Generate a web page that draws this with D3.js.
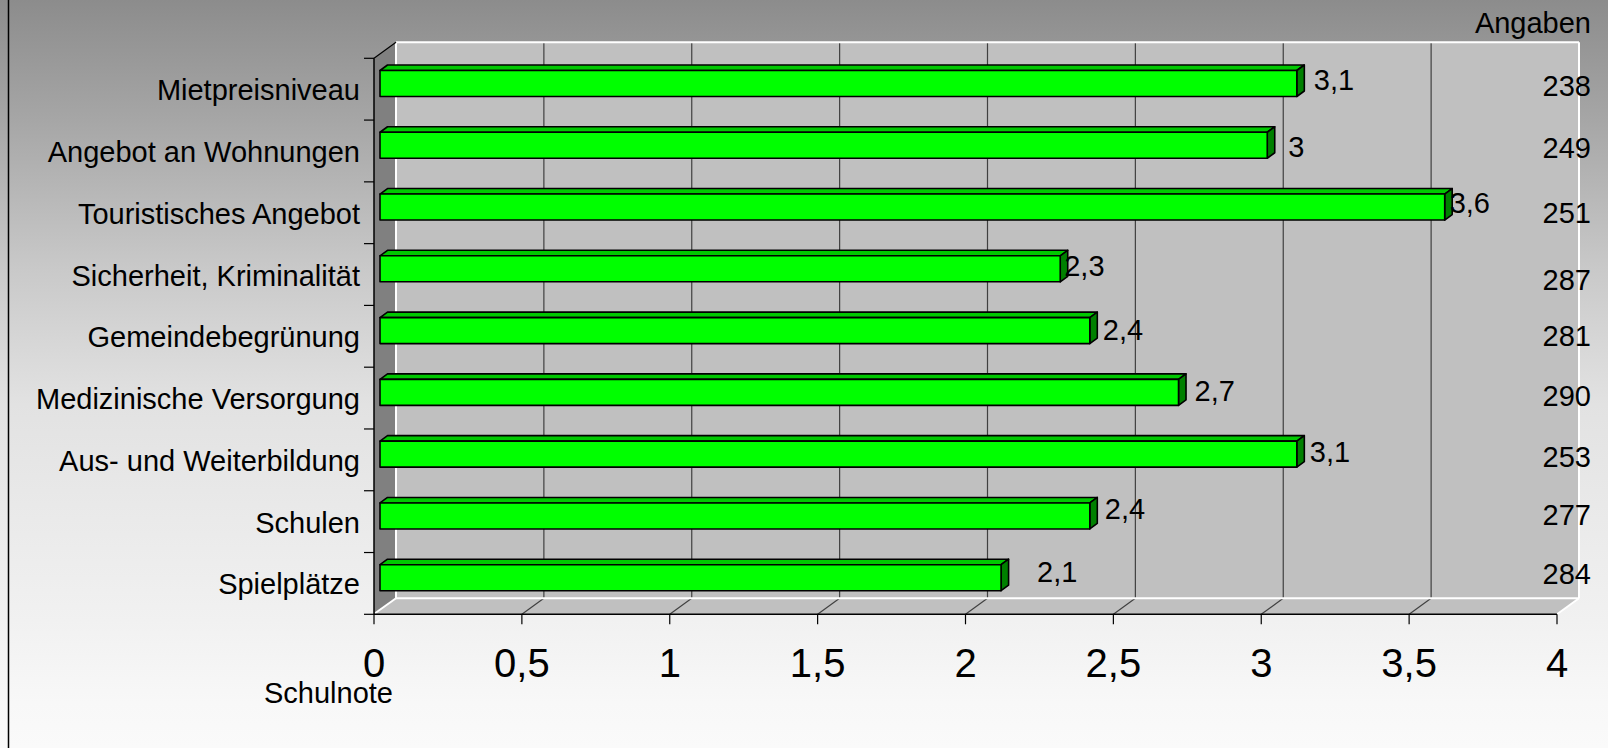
<!DOCTYPE html>
<html>
<head>
<meta charset="utf-8">
<script src="https://cdn.jsdelivr.net/npm/d3@7"></script>
<style>
  html, body { margin: 0; padding: 0; background: #fafafa; }
  svg { display: block; font-family: "Liberation Sans", Arial, sans-serif; }
</style>
</head>
<body>
<svg id="chart" width="1608" height="748"></svg>
<script>
// ---------------- data ----------------
const categories = ["Mietpreisniveau", "Angebot an Wohnungen", "Touristisches Angebot",
  "Sicherheit, Kriminalität", "Gemeindebegrünung", "Medizinische Versorgung",
  "Aus- und Weiterbildung", "Schulen", "Spielplätze"];
const values = [3.1, 3.0, 3.6, 2.3, 2.4, 2.7, 3.1, 2.4, 2.1];
const angaben = [238, 249, 251, 287, 281, 290, 253, 277, 284];
const xTicks = [0, 0.5, 1, 1.5, 2, 2.5, 3, 3.5, 4];
const xAxisTitle = "Schulnote";
const angabenTitle = "Angaben";

// ---------------- layout ----------------
const W = 1608, H = 748;
const depth = { dx: 22, dy: -16 };          // 3D depth offset of the walls
const barDepth = { dx: 7.5, dy: -5.5 };     // depth of each bar
const barShift = { dx: 6, dy: -5.7 };       // bar front-face offset from the front plane
const barH = 26;
// manual label nudges (as placed in the original slide)
const valueLabelDx = [23, 27, 11, 10, 19, 22, 19, 21, 42];
const valueLabelDy = [1, 6, 0, 1.5, 3.5, 3, 2, -2.5, -1];
const angabenDy = [7, 7.5, 10.5, 15.5, 9.5, 7.5, 7.5, 3.5, 1];

const svg = d3.select("#chart");
const fmt = d3.formatLocale({ decimal: ",", thousands: ".", grouping: [3], currency: ["", "€"] }).format("~g");

const x = d3.scaleLinear().domain([0, 4]).range([374, 1557]);
const y = d3.scaleBand().domain(categories).range([58.3, 614.3]).padding(0);

// ---------- background ----------
const defs = svg.append("defs");
const grad = defs.append("linearGradient").attr("id", "bg").attr("x1", 0).attr("y1", 0).attr("x2", 0).attr("y2", 1);
[[0, "#8c8c8c"], [0.16, "#a6a6a6"], [0.36, "#c9c9c9"], [0.54, "#e2e2e2"], [0.83, "#f1f1f1"], [0.94, "#f8f8f8"], [1, "#fafafa"]]
  .forEach(([o, c]) => grad.append("stop").attr("offset", o).attr("stop-color", c));
svg.append("rect").attr("width", W).attr("height", H).attr("fill", "url(#bg)");
svg.append("line").attr("x1", 8.5).attr("x2", 8.5).attr("y1", 0).attr("y2", H)
  .attr("stroke", "#000").attr("stroke-width", 1.5);

// ---------- walls ----------
const x0 = x(0), x1 = x(4);
const yTop = y.range()[0], yBot = y.range()[1];
const g = svg.append("g");

// back wall
g.append("rect").attr("x", x0 + depth.dx).attr("y", yTop + depth.dy)
  .attr("width", x1 - x0).attr("height", yBot - yTop).attr("fill", "#c0c0c0");
// side wall
g.append("polygon").attr("points", [
  [x0, yTop], [x0 + depth.dx, yTop + depth.dy], [x0 + depth.dx, yBot + depth.dy], [x0, yBot]
].join(" ")).attr("fill", "#808080");
// floor
g.append("polygon").attr("points", [
  [x0, yBot], [x0 + depth.dx, yBot + depth.dy], [x1 + depth.dx, yBot + depth.dy], [x1, yBot]
].join(" ")).attr("fill", "#c0c0c0");

// gridlines on back wall and floor
const inner = xTicks.filter(t => t > 0 && t < 4);
g.selectAll(".gv").data(inner).join("line")
  .attr("x1", d => x(d) + depth.dx).attr("x2", d => x(d) + depth.dx)
  .attr("y1", yTop + depth.dy).attr("y2", yBot + depth.dy)
  .attr("stroke", "#404040").attr("stroke-width", 1.2);
g.selectAll(".gf").data(inner).join("line")
  .attr("x1", d => x(d)).attr("x2", d => x(d) + depth.dx)
  .attr("y1", yBot).attr("y2", yBot + depth.dy)
  .attr("stroke", "#404040").attr("stroke-width", 1.2);

// white wall edges
const white = [
  [[x0 + depth.dx, yTop + depth.dy], [x1 + depth.dx, yTop + depth.dy]],
  [[x0 + depth.dx, yTop + depth.dy], [x0 + depth.dx, yBot + depth.dy]],
  [[x1 + depth.dx, yTop + depth.dy], [x1 + depth.dx, yBot + depth.dy]],
  [[x0 + depth.dx, yBot + depth.dy], [x1 + depth.dx, yBot + depth.dy]],
  [[x0 + 1, yBot - 1], [x0 + depth.dx, yBot + depth.dy]],
  [[x1, yBot], [x1 + depth.dx, yBot + depth.dy]]
];
g.selectAll(".we").data(white).join("line")
  .attr("x1", d => d[0][0]).attr("y1", d => d[0][1]).attr("x2", d => d[1][0]).attr("y2", d => d[1][1])
  .attr("stroke", "#ffffff").attr("stroke-width", 2);

// side wall top diagonal + axis lines
g.append("line").attr("x1", x0).attr("y1", yTop).attr("x2", x0 + depth.dx).attr("y2", yTop + depth.dy)
  .attr("stroke", "#000").attr("stroke-width", 1.2);
g.append("line").attr("x1", x0).attr("y1", yTop).attr("x2", x0).attr("y2", yBot)
  .attr("stroke", "#000").attr("stroke-width", 1.5);
g.append("line").attr("x1", x0).attr("y1", yBot).attr("x2", x1).attr("y2", yBot)
  .attr("stroke", "#000").attr("stroke-width", 1.5);

// category ticks (band boundaries)
const bounds = categories.map(c => y(c)).concat([yBot]);
g.selectAll(".ty").data(bounds).join("line")
  .attr("x1", x0 - 10).attr("x2", x0).attr("y1", d => d).attr("y2", d => d)
  .attr("stroke", "#000").attr("stroke-width", 1.2);
// value ticks
g.selectAll(".tx").data(xTicks).join("line")
  .attr("x1", d => x(d)).attr("x2", d => x(d)).attr("y1", yBot).attr("y2", yBot + 10)
  .attr("stroke", "#000").attr("stroke-width", 1.2);

// ---------- bars ----------
const bars = categories.map((c, i) => {
  const xa = x(0) + barShift.dx, xb = x(values[i]) + barShift.dx;
  const cy = y(c) + y.bandwidth() / 2 + barShift.dy;
  return { c, v: values[i], i, xa, xb, top: cy - barH / 2, bot: cy + barH / 2 };
});
const bg = svg.append("g").attr("stroke", "#000").attr("stroke-width", 1.6).attr("stroke-linejoin", "round");
bg.selectAll(".top").data(bars).join("polygon")
  .attr("points", d => [[d.xa, d.top], [d.xa + barDepth.dx, d.top + barDepth.dy],
    [d.xb + barDepth.dx, d.top + barDepth.dy], [d.xb, d.top]].join(" "))
  .attr("fill", "#00c800");
bg.selectAll(".side").data(bars).join("polygon")
  .attr("points", d => [[d.xb, d.top], [d.xb + barDepth.dx, d.top + barDepth.dy],
    [d.xb + barDepth.dx, d.bot + barDepth.dy], [d.xb, d.bot]].join(" "))
  .attr("fill", "#008000");
bg.selectAll(".front").data(bars).join("rect")
  .attr("x", d => d.xa).attr("y", d => d.top)
  .attr("width", d => d.xb - d.xa).attr("height", d => d.bot - d.top)
  .attr("fill", "#00ff00");

// ---------- text ----------
const fs = 29;
const tg = svg.append("g").attr("fill", "#000").attr("font-size", fs);

tg.selectAll(".cat").data(categories).join("text")
  .attr("x", 360).attr("y", d => y(d) + y.bandwidth() / 2 + 11)
  .attr("text-anchor", "end").text(d => d);

tg.selectAll(".val").data(bars).join("text")
  .attr("x", d => x(d.v) + valueLabelDx[d.i])
  .attr("y", d => y(d.c) + y.bandwidth() / 2 + valueLabelDy[d.i])
  .text(d => fmt(d.v));

tg.selectAll(".ang").data(angaben).join("text")
  .attr("x", 1591).attr("y", (d, i) => y(categories[i]) + y.bandwidth() / 2 + angabenDy[i])
  .attr("text-anchor", "end").text(d => d);

tg.append("text").attr("x", 1591).attr("y", 33.3).attr("text-anchor", "end").text(angabenTitle);

svg.append("g").attr("font-size", 40).selectAll("text").data(xTicks).join("text")
  .attr("x", d => x(d)).attr("y", 676.7).attr("text-anchor", "middle").text(d => fmt(d));

tg.append("text").attr("x", 393).attr("y", 703).attr("text-anchor", "end").text(xAxisTitle);
</script>
</body>
</html>
